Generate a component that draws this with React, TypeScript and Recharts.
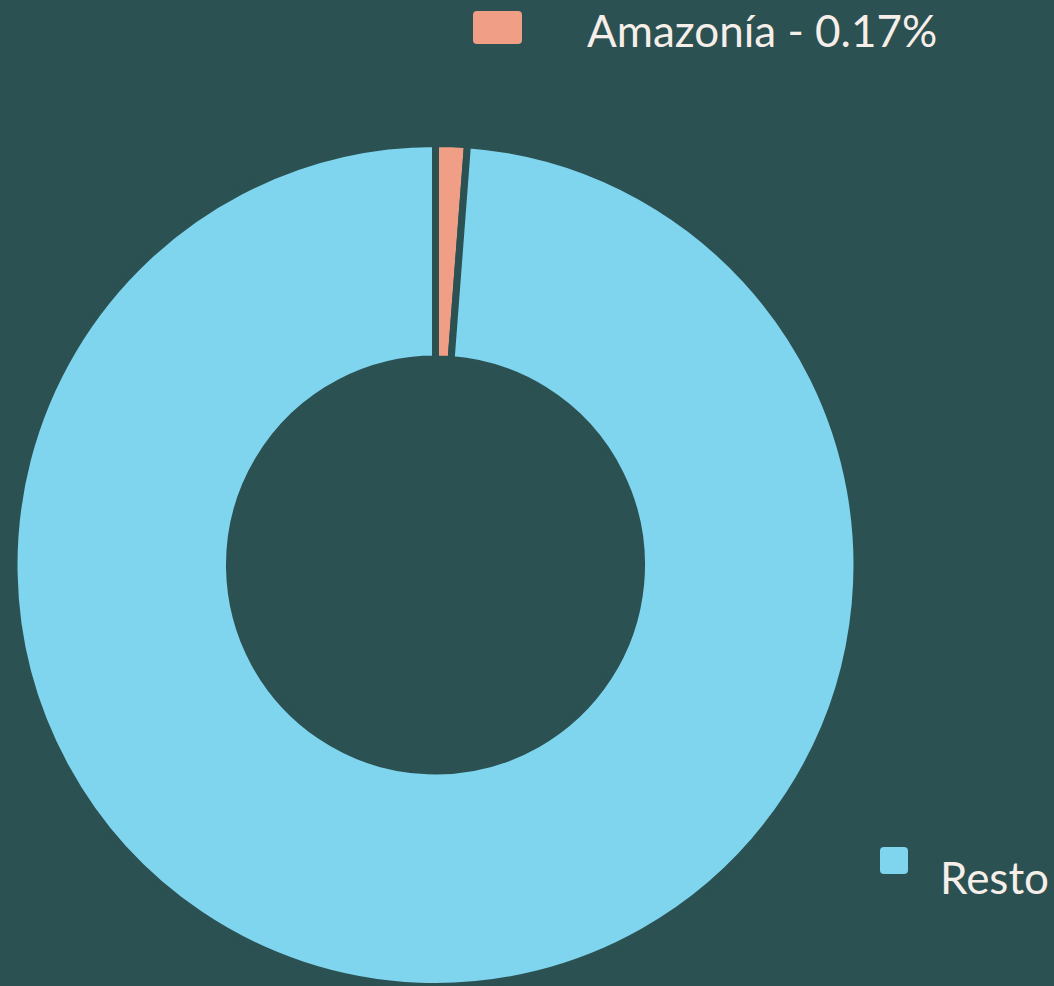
import React from "react";
import { PieChart, Pie, Cell } from "recharts";

const categories = ["Amazonía", "Resto"];
const values = [0.17, 99.83];
const legendLabels = ["Amazonía - 0.17%", "Resto"];
const colors = ["#F19E86", "#7FD4EE"];

const BG = "#2B5152";
const W = 1054;
const H = 986;

const data = categories.map((name, i) => ({ name, value: values[i] }));

const legendPos = [
  { rx: 473, ry: 11, rw: 49, rh: 33, tx: 587, ty: 47 },
  { rx: 880, ry: 847, rw: 28, rh: 27, tx: 940, ty: 894 },
];

export default function App() {
  return (
    <div
      style={{
        position: "fixed",
        left: 0,
        top: 0,
        width: W,
        height: H,
        background: BG,
        overflow: "hidden",
      }}
    >
      <PieChart width={W} height={H} margin={{ top: 0, right: 0, bottom: 0, left: 0 }}>
        <Pie
          data={data}
          dataKey="value"
          nameKey="name"
          cx={435.5}
          cy={565}
          innerRadius={206}
          outerRadius={421.5}
          startAngle={90}
          endAngle={-270}
          minAngle={3.75}
          stroke={BG}
          strokeWidth={7}
          isAnimationActive={false}
        >
          {data.map((d, i) => (
            <Cell key={d.name} fill={colors[i]} stroke={BG} strokeWidth={7} />
          ))}
        </Pie>
      </PieChart>
      <svg
        width={W}
        height={H}
        style={{ position: "absolute", left: 0, top: 0, pointerEvents: "none" }}
      >
        {legendLabels.map((lab, i) => (
          <g key={lab}>
            <rect
              x={legendPos[i].rx}
              y={legendPos[i].ry}
              width={legendPos[i].rw}
              height={legendPos[i].rh}
              rx={4}
              fill={colors[i]}
            />
            <text
              x={legendPos[i].tx}
              y={legendPos[i].ty}
              fill="#F6EEE8"
              fontFamily="Lato, 'Open Sans', sans-serif"
              fontSize={44}
            >
              {lab}
            </text>
          </g>
        ))}
      </svg>
    </div>
  );
}
